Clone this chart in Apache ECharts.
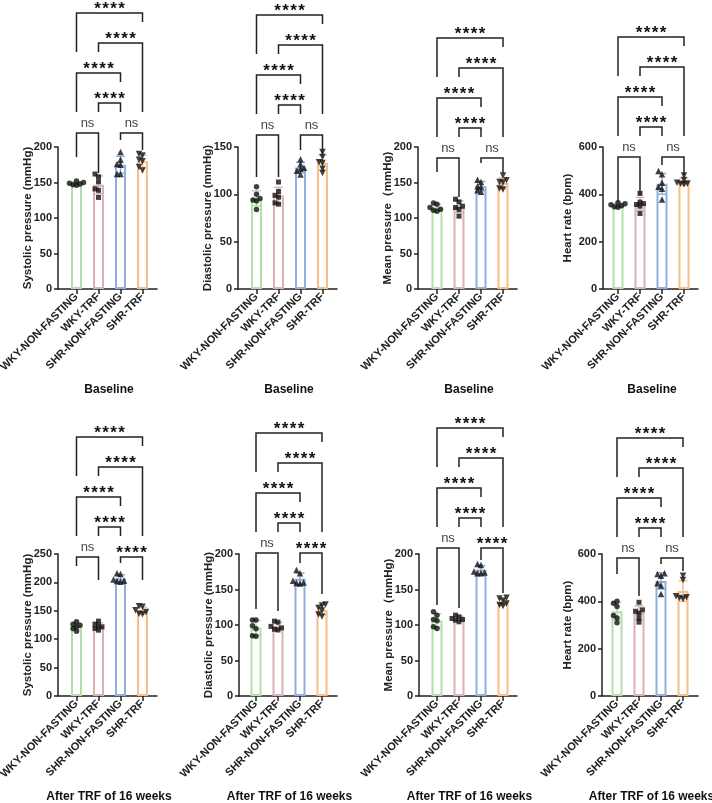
<!DOCTYPE html>
<html>
<head>
<meta charset="utf-8">
<script src="https://cdn.jsdelivr.net/npm/echarts@6/dist/echarts.min.js"></script>
<style>
html, body { margin: 0; padding: 0; background: #fff; }
#main { width: 712px; height: 803px; }
</style>
</head>
<body>
<div id="main"></div>
<script>
var groups = ['WKY-NON-FASTING', 'WKY-TRF', 'SHR-NON-FASTING', 'SHR-TRF'];

// one value per animal (n=6)
var sbpBase = [[150, 148, 152, 147, 149, 146], [162, 158, 151, 141, 139, 129], [193, 182, 176, 175, 162, 162], [190, 188, 182, 180, 172, 167]];
var dbpBase = [[108, 100, 95.5, 94, 93, 84], [113, 103, 99, 97, 91, 89.6], [137, 131.7, 128, 127, 125, 121], [144.7, 139.4, 134, 133, 127, 122.6]];
var mbpBase = [[121, 119.4, 114.8, 112.4, 111, 109.6], [126.5, 122.7, 116.6, 114.8, 112, 102.6], [154, 150.8, 144.7, 143.8, 139, 136.8], [160, 153, 150.8, 150, 141.5, 140]];
var hrBase = [[364, 360, 356, 352, 348, 345], [404, 367, 361, 357, 350, 319], [498.6, 484.5, 449, 432, 423.7, 378], [480, 461, 449, 446, 445, 442]];
var sbpAfter = [[130.6, 126.5, 124.7, 121.8, 118.8, 114], [131.8, 126.5, 123.5, 121.8, 118.8, 115.9], [215.9, 214.7, 205.3, 203, 202.4, 201.2], [158, 157, 151, 148, 145, 144]];
var dbpAfter = [[107, 107, 99, 94.6, 85, 84], [105.4, 104, 98, 96, 94, 93], [177.5, 172.8, 162.5, 160, 159, 158.5], [128.8, 127.4, 124, 120.4, 114.8, 112]];
var mbpAfter = [[118.6, 113.9, 107.8, 105.9, 97.4, 95], [113.9, 111.5, 109.2, 107.8, 106.8, 104.5], [186, 184.5, 175.5, 174, 173, 173], [138.4, 137.4, 134, 130.4, 128, 126.6]];
var hrAfter = [[400, 392, 378, 340, 330, 309], [396, 364, 358, 350, 330, 312], [518.5, 515.6, 508.6, 476, 466.5, 431.3], [508.6, 490, 421, 417.3, 414.5, 410]];

// comparisons: 1-2, 3-4, 2-3, 1-3, 2-4, 1-4
var pairs = [[0, 1], [2, 3], [1, 2], [0, 2], [1, 3], [0, 3]];
var pairLevels = [0, 0, 1, 2, 3, 4];
var sigBase = ['ns', 'ns', '****', '****', '****', '****'];
var sigSbpAfter = ['ns', '****', '****', '****', '****', '****'];
var sigDbpAfter = ['ns', '****', '****', '****', '****', '****'];
var sigMbpAfter = ['ns', '****', '****', '****', '****', '****'];
var sigHrAfter = ['ns', 'ns', '****', '****', '****', '****'];

var yNames = ['Systolic pressure (mmHg)', 'Diastolic pressure (mmHg)', 'Mean pressure\uff08mmHg)', 'Heart rate (bpm)'];
var yMaxBase = [200, 150, 200, 600];
var yMaxAfter = [250, 200, 200, 600];
var yStep = [50, 50, 50, 200];
var rowTitles = ['Baseline', 'After TRF of 16 weeks'];

var colors = ['#b3e0a9', '#dcb1b3', '#8eafdf', '#f9bd88'];
var symbols = ['circle', 'rect', 'triangle', 'triangle'];
var FONT = '"Liberation Sans", Arial, sans-serif';
var STEP = 22; // px between bars

var panels = [
    {data: sbpBase, name: yNames[0], max: yMaxBase[0], step: yStep[0], sig: sigBase},
    {data: dbpBase, name: yNames[1], max: yMaxBase[1], step: yStep[1], sig: sigBase},
    {data: mbpBase, name: yNames[2], max: yMaxBase[2], step: yStep[2], sig: sigBase},
    {data: hrBase, name: yNames[3], max: yMaxBase[3], step: yStep[3], sig: sigBase},
    {data: sbpAfter, name: yNames[0], max: yMaxAfter[0], step: yStep[0], sig: sigSbpAfter},
    {data: dbpAfter, name: yNames[1], max: yMaxAfter[1], step: yStep[1], sig: sigDbpAfter},
    {data: mbpAfter, name: yNames[2], max: yMaxAfter[2], step: yStep[2], sig: sigMbpAfter},
    {data: hrAfter, name: yNames[3], max: yMaxAfter[3], step: yStep[3], sig: sigHrAfter}
];

// where each small plot sits
var layouts = [
    {left: 58, first: 76.5, right: 157, top: 147, lvl0: -14, legs: [[24, 40], [7, 17]], nameGap: 24},
    {left: 238, first: 256.5, right: 337, top: 147, lvl0: -12, legs: [[42, 42], [15, 20]], nameGap: 24},
    {left: 418, first: 437, right: 517, top: 147, lvl0: 11, legs: [[14, 39], [5, 15]], nameGap: 24},
    {left: 603, first: 618, right: 698, top: 147, lvl0: 10, legs: [[45, 38], [8, 18]], nameGap: 29},
    {left: 58, first: 76.5, right: 157, top: 554, lvl0: 3, legs: [[9, 23], [6, 23]], nameGap: 24},
    {left: 239, first: 256, right: 337, top: 554, lvl0: -1, legs: [[56, 58], [10, 41]], nameGap: 24},
    {left: 419, first: 437, right: 517, top: 554, lvl0: -6, legs: [[57, 60], [12, 45]], nameGap: 24},
    {left: 602, first: 617, right: 698, top: 554, lvl0: 4, legs: [[16, 38], [6, 13]], nameGap: 28}
];
var GRID_H = 142;

function mean(a) {
    var s = 0;
    for (var i = 0; i < a.length; i++) s += a[i];
    return s / a.length;
}
function sd(a) {
    var m = mean(a), s = 0;
    for (var i = 0; i < a.length; i++) s += (a[i] - m) * (a[i] - m);
    return Math.sqrt(s / (a.length - 1));
}

// spread dots sideways so they don't sit on top of each other
function swarm(vals, pxPerUnit) {
    var order = vals.map(function (v, i) { return i; }).sort(function (a, b) { return vals[a] - vals[b]; });
    var cands = [0, -3.5, 3.5, -7, 7, -1.75, 1.75, -5.25, 5.25, -8.5, 8.5];
    var placed = [], out = [];
    order.forEach(function (i) {
        var py = vals[i] * pxPerUnit;
        out[i] = 0;
        for (var c = 0; c < cands.length; c++) {
            var ok = placed.every(function (p) {
                return Math.abs(p.x - cands[c]) >= 3.5 || Math.abs(p.y - py) >= 4;
            });
            if (ok) { out[i] = cands[c]; break; }
        }
        placed.push({x: out[i], y: py});
    });
    return out;
}

var grids = [], xAxes = [], yAxes = [], series = [], graphics = [];

panels.forEach(function (p, k) {
    var lay = layouts[k];
    var xmin = -(lay.first - lay.left) / STEP;
    var xmax = xmin + (lay.right - lay.left) / STEP;

    grids.push({left: lay.left, top: lay.top, width: lay.right - lay.left, height: GRID_H, outerBoundsMode: 'none'});

    xAxes.push({
        type: 'value', gridIndex: k, min: xmin, max: xmax,
        axisLine: {show: true, onZero: false, lineStyle: {color: '#222', width: 1.5}},
        axisTick: {show: true, customValues: [0, 1, 2, 3], length: 5, lineStyle: {color: '#222', width: 1.5}},
        axisLabel: {
            customValues: [0, 1, 2, 3], rotate: 45, margin: 6,
            fontSize: 11, fontWeight: 'bold', color: '#222', fontFamily: FONT,
            formatter: function (v) { return groups[Math.round(v)] || ''; }
        },
        splitLine: {show: false}
    });

    yAxes.push({
        type: 'value', gridIndex: k, min: 0, max: p.max, interval: p.step,
        name: p.name, nameLocation: 'middle', nameGap: lay.nameGap, nameMoveOverlap: false,
        nameTextStyle: {fontSize: 11.5, fontWeight: 'bold', color: '#222', fontFamily: FONT},
        axisLine: {show: true, onZero: false, lineStyle: {color: '#222', width: 1.5}},
        axisTick: {show: true, length: 4, lineStyle: {color: '#222', width: 1.5}},
        axisLabel: {fontSize: 11, fontWeight: 'bold', color: '#222', margin: 6, fontFamily: FONT},
        splitLine: {show: false}
    });

    // bars = group means
    series.push({
        type: 'bar', xAxisIndex: k, yAxisIndex: k, barWidth: 11, z: 1, silent: true,
        data: p.data.map(function (g, i) {
            return {value: [i, mean(g)], itemStyle: {color: '#fff', borderColor: colors[i], borderWidth: 2}};
        })
    });

    // mean +/- SD
    series.push({
        type: 'custom', xAxisIndex: k, yAxisIndex: k, z: 2, silent: true, clip: false,
        encode: {x: 0, y: 1},
        data: p.data.map(function (g, i) { return [i, mean(g), sd(g)]; }),
        renderItem: function (params, api) {
            var x = api.value(0), m = api.value(1), s = api.value(2);
            var hi = api.coord([x, m + s]), lo = api.coord([x, m - s]);
            var st = {stroke: colors[params.dataIndex], lineWidth: 1.5};
            return {type: 'group', children: [
                {type: 'line', shape: {x1: hi[0], y1: hi[1], x2: lo[0], y2: lo[1]}, style: st},
                {type: 'line', shape: {x1: hi[0] - 4.5, y1: hi[1], x2: hi[0] + 4.5, y2: hi[1]}, style: st},
                {type: 'line', shape: {x1: lo[0] - 4.5, y1: lo[1], x2: lo[0] + 4.5, y2: lo[1]}, style: st}
            ]};
        }
    });

    // individual animals
    var pts = [];
    p.data.forEach(function (g, i) {
        var offs = swarm(g, GRID_H / p.max);
        g.forEach(function (v, n) {
            pts.push({
                value: [i + offs[n] / STEP, v],
                symbol: symbols[i],
                symbolSize: i === 0 ? 5.5 : (i === 1 ? 5 : 6.5),
                symbolRotate: i === 3 ? 180 : 0
            });
        });
    });
    series.push({
        type: 'scatter', xAxisIndex: k, yAxisIndex: k, z: 3, silent: true,
        itemStyle: {color: '#111'}, data: pts
    });

    // significance brackets
    series.push({
        type: 'custom', xAxisIndex: k, yAxisIndex: k, z: 4, silent: true, clip: false,
        encode: {x: 0, y: 1},
        data: pairs.map(function (pr, b) { return [pr[0], pr[1], pairLevels[b], b]; }),
        renderItem: function (params, api) {
            var a = api.value(0), c = api.value(1), lv = api.value(2), b = api.value(3);
            var gridTop = api.coord([0, p.max])[1];
            function levelY(l) { return gridTop + lay.lvl0 - l * 30; }
            var yTop = levelY(lv);
            var x1 = api.coord([a, 0])[0], x2 = api.coord([c, 0])[0];
            function legEnd(col) {
                var best = -1;
                for (var q = 0; q < pairs.length; q++) {
                    if (pairLevels[q] < lv && pairs[q][0] <= col && pairs[q][1] >= col && pairLevels[q] > best) best = pairLevels[q];
                }
                if (best < 0) return yTop + 10;
                return Math.max(levelY(best) - 21, yTop + 8);
            }
            var b1, b2;
            if (lv === 0) {
                b1 = yTop + lay.legs[b][0];
                b2 = yTop + lay.legs[b][1];
            } else {
                b1 = legEnd(a);
                b2 = legEnd(c);
            }
            var label = p.sig[b];
            var stars = label !== 'ns';
            return {type: 'group', children: [
                {type: 'polyline', shape: {points: [[x1, b1], [x1, yTop], [x2, yTop], [x2, b2]]},
                    style: {stroke: '#222', lineWidth: 1.5, fill: 'none'}},
                {type: 'text', style: {
                    text: stars ? '*\u200a*\u200a*\u200a*' : 'ns',
                    x: (x1 + x2) / 2, y: stars ? yTop - 4 : yTop - 10,
                    align: 'center', verticalAlign: 'middle',
                    fill: stars ? '#111' : '#444',
                    font: (stars ? 'bold 17px ' : '13px ') + FONT
                }}
            ]};
        }
    });

    // row title under every panel
    graphics.push({
        type: 'text', x: (lay.left + lay.right) / 2 + 1.5, y: lay.top + GRID_H + 101,
        style: {text: rowTitles[k < 4 ? 0 : 1], align: 'center', verticalAlign: 'middle',
            fill: '#111', font: 'bold 12px ' + FONT}
    });
});

var myChart = echarts.init(document.getElementById('main'));
myChart.setOption({
    animation: false,
    backgroundColor: '#fff',
    grid: grids,
    xAxis: xAxes,
    yAxis: yAxes,
    series: series,
    graphic: graphics
});
</script>
</body>
</html>
